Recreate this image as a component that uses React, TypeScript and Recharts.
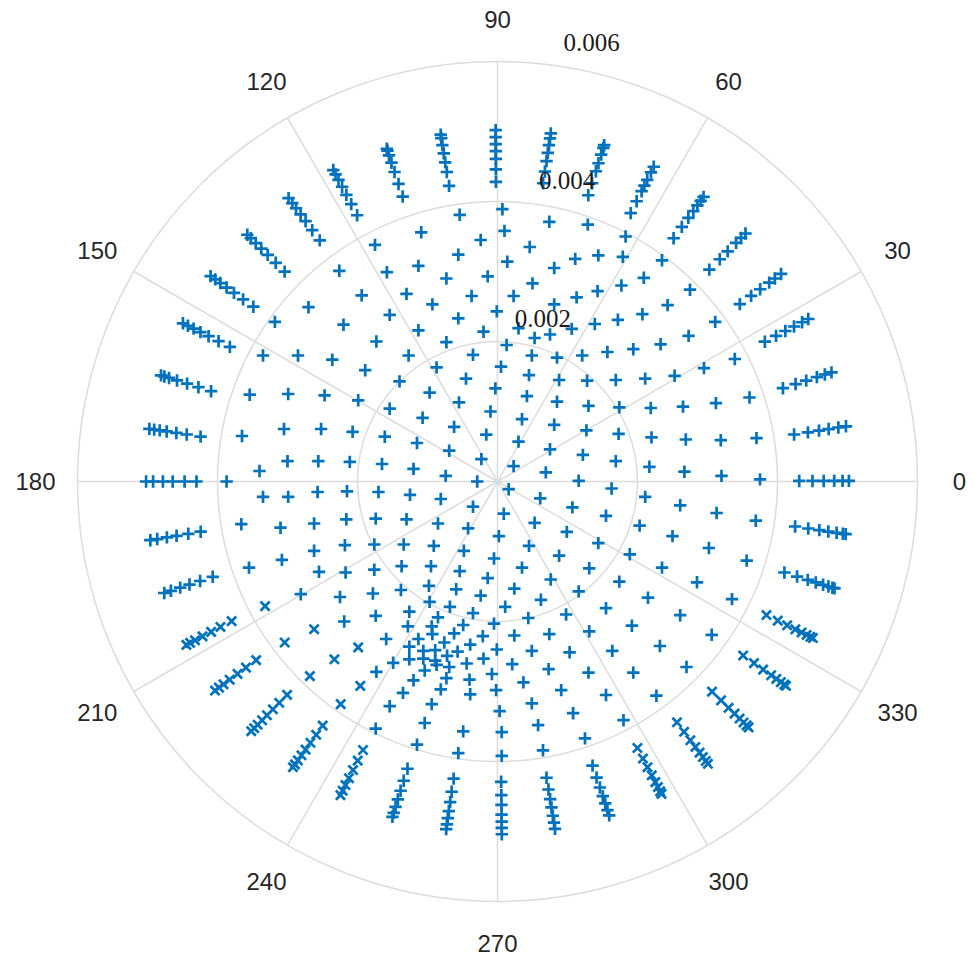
import { ScatterChart, Scatter, XAxis, YAxis, ReferenceDot, ReferenceLine } from "recharts";

// Polar scatter. All radii / coordinates are in units of 1e-3.
const R_MAX = 6;
const PLOT = 840; // square plot area, px
const PX_PER_UNIT = PLOT / (2 * R_MAX);
const LABEL_R = 6.6;
const RTICK_ANGLE = 80;

const BLUE = "#0072BD";
const GRID = "#dcdcdc";

const ringTicks = [2, 4, 6];
const ringLabels = ["0.002", "0.004", "0.006"];
const angleTicks = [0, 30, 60, 90, 120, 150, 180, 210, 240, 270, 300, 330];

// inner field, [re, im]
const innerPlus: [number, number][] = [
  [-1.73, 2.0], [-0.73, 1.99], [0.13, 1.95], [1.94, 1.89], [1.57, 1.85], [1.21, 1.8], [0.85, 1.77], [0.49, 1.8], [-0.35, 1.81], [-1.27, 1.8],
  [-1.89, 1.59], [-0.87, 1.63], [0.05, 1.64], [-1.4, 1.43], [-0.45, 1.47], [0.45, 1.52], [0.88, 1.45], [1.28, 1.44], [1.69, 1.45],
  [-0.97, 1.27], [-0.03, 1.33], [0.42, 1.22], [0.85, 1.14], [1.3, 1.08], [1.74, 1.06],
  [-1.99, 1.16], [-1.54, 1.04], [-0.55, 1.13], [-0.1, 1.0], [0.35, 0.89], [0.81, 0.81], [1.27, 0.73], [1.73, 0.68],
  [-1.07, 0.91], [-0.62, 0.78], [-0.16, 0.67],
  [-1.61, 0.64], [-1.15, 0.55], [-0.69, 0.44], [-0.23, 0.32],
  [0.3, 0.57], [0.75, 0.46], [1.22, 0.38], [1.69, 0.29],
  [0.23, 0.22], [0.69, 0.13], [1.16, 0.01], [1.63, -0.1],
  [-1.65, 0.25], [-1.2, 0.18], [-0.74, 0.08], [-0.29, 0.0],
  [0.16, -0.11], [0.61, -0.24], [1.07, -0.37], [1.55, -0.49],
  [-1.7, -0.15], [-1.25, -0.19], [-0.81, -0.25], [-0.35, -0.36], [0.09, -0.46], [0.53, -0.59], [0.99, -0.72], [1.44, -0.88], [1.89, -1.04],
  [-1.74, -0.53], [-1.3, -0.54], [-0.85, -0.6], [-0.42, -0.67], [0.02, -0.78], [0.45, -0.92], [0.88, -1.06], [1.31, -1.24], [1.74, -1.43],
  [-1.76, -0.9], [-1.34, -0.9], [-0.91, -0.92], [-0.48, -0.99], [-0.05, -1.1], [0.35, -1.23], [0.76, -1.4], [1.16, -1.57], [1.55, -1.81],
  [-1.76, -1.26], [-1.37, -1.21], [-0.95, -1.21], [-0.54, -1.28], [-0.14, -1.38], [0.24, -1.53], [0.62, -1.69], [0.98, -1.9],
  [-1.78, -1.6], [-1.38, -1.55], [-0.98, -1.49], [-0.59, -1.54], [-0.24, -1.63], [0.11, -1.79], [0.44, -1.95],
  // knot below centre
  [-1.74, -1.92], [-1.26, -1.86], [-0.97, -1.72], [-0.68, -1.79], [-0.35, -1.88], [-0.05, -2.03],
  [-1.28, -2.07], [-0.85, -1.94], [-0.94, -2.07], [-0.49, -2.05], [-0.62, -2.17], [-0.21, -2.21],
  [-1.59, -2.25], [-1.13, -2.25], [-0.93, -2.18], [-0.76, -2.3], [-0.39, -2.33], [-0.01, -2.4],
  [-1.26, -2.36], [-1.06, -2.42], [-0.89, -2.41], [-0.57, -2.43],
  [-1.26, -2.54], [-1.06, -2.53], [-0.89, -2.56], [-0.72, -2.49], [-0.44, -2.6], [-0.2, -2.53],
  [-1.49, -2.59], [-1.73, -2.72], [-1.04, -2.7], [-0.87, -2.62], [-0.69, -2.65], [-0.4, -2.83], [-0.08, -2.75],
  [-1.2, -2.84], [-0.73, -2.81],
  [-1.35, -3.02], [-0.81, -2.97], [-0.39, -3.04], [-0.02, -2.98],
  [-1.54, -3.21], [-0.94, -3.18],
  // lower band
  [0.74, -2.18], [1.31, -2.14], [1.92, -2.06], [0.24, -2.2], [0.49, -2.42], [1.03, -2.44], [1.64, -2.42],
  [0.21, -2.61], [0.73, -2.68], [1.3, -2.73], [1.94, -2.73], [0.37, -2.87], [0.91, -2.98], [1.55, -3.05],
  [0.49, -3.17], [1.08, -3.31], [1.8, -3.41], [-1.74, -3.53], [-1.04, -3.45], [-0.49, -3.57], [0.03, -3.28],
  [0.58, -3.48], [1.25, -3.67], [-1.15, -3.76], [-0.56, -3.88], [0.06, -3.58], [0.06, -3.92], [0.65, -3.84],
  // upper band
  [0.07, 3.89], [-0.54, 3.81], [-1.09, 3.56], [0.1, 3.58], [-0.24, 3.45], [-1.75, 3.38], [0.74, 3.71], [1.29, 3.67],
  [0.46, 3.35], [1.83, 3.5], [-0.56, 3.24], [0.14, 3.14], [0.81, 3.05], [1.11, 3.18], [1.44, 3.23], [1.79, 3.21],
  [-1.13, 3.08], [-1.58, 2.99], [-0.73, 2.9], [-0.14, 2.93], [0.5, 2.83], [1.13, 2.63], [1.43, 2.72], [1.77, 2.8],
  [-1.94, 2.66], [-1.3, 2.68], [-0.37, 2.65], [0.23, 2.65], [0.81, 2.53], [-0.93, 2.53], [-1.54, 2.38], [-0.01, 2.43],
  [-0.56, 2.33], [1.39, 2.25], [1.72, 2.31], [-1.13, 2.16], [-0.2, 2.14], [0.3, 2.19], [0.53, 2.05], [0.75, 2.1], [1.06, 2.18],
  // left band
  [-3.35, 1.8], [-2.85, 1.8], [-2.36, 1.74], [-3.54, 1.24], [-2.99, 1.25], [-2.47, 1.23], [-3.65, 0.65], [-3.05, 0.75],
  [-2.52, 0.75], [-2.07, 0.71], [-3.4, 0.15], [-3.0, 0.29], [-2.56, 0.29], [-2.11, 0.28], [-3.87, 0.0], [-3.35, -0.22],
  [-2.99, -0.22], [-2.57, -0.15], [-2.15, -0.14], [-3.66, -0.61], [-3.1, -0.66], [-2.62, -0.6], [-2.16, -0.54],
  [-2.26, 3.01], [-2.7, 2.49], [-3.18, 2.28], [-2.2, 2.24],
  [-3.55, -1.23], [-3.08, -1.12], [-2.62, -0.99], [-2.18, -0.91], [-2.55, -1.29], [-2.17, -1.3], [-2.81, -1.61],
  [-2.25, -1.65], [-2.19, -2.0],
  // right band
  [2.35, 3.16], [2.09, 2.91], [2.75, 2.74], [2.43, 2.52], [2.07, 2.39], [3.11, 2.28], [2.73, 2.08],
  [2.33, 1.96], [2.11, 1.47], [2.53, 1.51], [2.95, 1.62], [3.39, 1.75], [2.19, 1.05], [2.65, 1.07], [3.12, 1.12],
  [3.6, 1.2], [2.2, 0.63], [2.69, 0.6], [3.19, 0.59], [3.7, 0.62], [2.17, 0.21], [2.67, 0.14], [3.2, 0.08],
  [3.75, 0.03], [2.11, -0.22], [2.61, -0.34], [3.13, -0.45], [3.69, -0.56], [2.03, -0.63], [2.5, -0.78],
  [3.02, -0.95], [3.56, -1.13], [2.35, -1.23], [2.85, -1.44], [3.35, -1.68], [2.15, -1.66], [2.61, -1.91],
  [3.06, -2.19], [2.32, -2.35], [2.7, -2.65], [2.27, -3.06],
];

const innerCross: [number, number][] = [
  [-3.32, -1.78], [-3.04, -2.3], [-2.62, -2.11], [-2.33, -2.54], [-2.68, -2.78], [-2.24, -3.18], [-1.99, -2.37], [-1.96, -2.92],
];

// outer rim streaks, [angle in degrees, radii]
const rimPlus: [number, number[]][] = [
  [0.1, [4.31, 4.5, 4.66, 4.81, 4.93, 5.02]],
  [9.0, [4.29, 4.49, 4.65, 4.79, 4.93, 5.04]],
  [18.1, [4.29, 4.48, 4.64, 4.8, 4.92, 5.02]],
  [27.6, [4.31, 4.49, 4.64, 4.78, 4.91, 5.01]],
  [36.2, [4.29, 4.49, 4.65, 4.81, 4.91, 5.02]],
  [45.0, [4.28, 4.49, 4.65, 4.82, 4.92, 5.01]],
  [54.1, [4.29, 4.49, 4.65, 4.77, 4.87, 4.95, 5.02]],
  [63.6, [4.28, 4.47, 4.63, 4.72, 4.81, 4.93, 5.02]],
  [72.4, [4.29, 4.47, 4.65, 4.77, 4.9, 5.0, 5.04]],
  [81.3, [4.31, 4.48, 4.63, 4.75, 4.86, 4.96, 5.03]],
  [90.3, [4.28, 4.46, 4.61, 4.72, 4.82, 4.92, 5.02]],
  [99.3, [4.28, 4.48, 4.62, 4.75, 4.87, 4.97, 5.02]],
  [108.4, [4.29, 4.48, 4.66, 4.8, 4.91, 4.98, 5.01]],
  [117.8, [4.3, 4.48, 4.63, 4.76, 4.87, 4.96, 5.03]],
  [126.4, [4.28, 4.46, 4.62, 4.74, 4.85, 4.94, 5.03]],
  [135.4, [4.27, 4.45, 4.61, 4.74, 4.85, 4.95, 5.02]],
  [144.4, [4.29, 4.47, 4.63, 4.76, 4.87, 4.96, 5.04]],
  [153.3, [4.28, 4.46, 4.62, 4.75, 4.86, 4.95, 5.03]],
  [162.5, [4.29, 4.48, 4.65, 4.8, 4.92, 4.99, 5.04]],
  [171.4, [4.29, 4.49, 4.64, 4.78, 4.88, 4.96, 5.03]],
  [180.0, [4.3, 4.47, 4.64, 4.78, 4.92, 5.02]],
  [189.6, [4.3, 4.48, 4.65, 4.79, 4.93, 5.03]],
  [198.5, [4.29, 4.48, 4.64, 4.78, 4.92, 5.02]],
  [252.6, [4.3, 4.48, 4.63, 4.76, 4.87, 4.96, 5.02]],
  [261.6, [4.29, 4.48, 4.63, 4.76, 4.86, 4.95, 5.02]],
  [270.7, [4.29, 4.48, 4.62, 4.76, 4.86, 4.95, 5.04]],
  [279.4, [4.29, 4.46, 4.6, 4.72, 4.84, 4.94, 5.03]],
  [288.5, [4.28, 4.46, 4.61, 4.74, 4.85, 4.95, 5.03]],
  [342.4, [4.3, 4.49, 4.65, 4.77, 4.88, 4.96, 5.02, 5.05]],
  [351.4, [4.3, 4.49, 4.65, 4.78, 4.9, 4.99, 5.03]],
];

const rimCross: [number, number[]][] = [
  [207.7, [4.29, 4.47, 4.62, 4.76, 4.88, 4.96, 5.02]],
  [216.5, [4.29, 4.47, 4.62, 4.76, 4.87, 4.95, 5.02]],
  [225.4, [4.28, 4.44, 4.57, 4.69, 4.79, 4.88, 4.95, 5.01]],
  [234.4, [4.29, 4.45, 4.59, 4.71, 4.81, 4.9, 4.97, 5.02]],
  [243.4, [4.29, 4.46, 4.61, 4.74, 4.85, 4.94, 5.01]],
  [297.7, [4.3, 4.47, 4.61, 4.74, 4.85, 4.93, 5.0, 5.04]],
  [306.7, [4.29, 4.46, 4.61, 4.73, 4.83, 4.91, 4.98, 5.03]],
  [315.6, [4.29, 4.47, 4.62, 4.74, 4.84, 4.92, 4.98, 5.02]],
  [324.7, [4.3, 4.49, 4.65, 4.79, 4.88, 4.96, 5.02, 5.05]],
  [333.6, [4.29, 4.47, 4.62, 4.75, 4.85, 4.93, 4.99, 5.03]],
];

const rad = (deg: number) => (deg * Math.PI) / 180;
const fromPolar = (deg: number, r: number) => ({ x: r * Math.cos(rad(deg)), y: r * Math.sin(rad(deg)) });

const toPoints = (pts: [number, number][], rim: [number, number[]][]) => [
  ...pts.map(([x, y]) => ({ x, y })),
  ...rim.flatMap(([a, rs]) => rs.map((r) => fromPolar(a, r))),
];

const plusData = toPoints(innerPlus, rimPlus);
const crossData = toPoints(innerCross, rimCross);

const PlusMark = (props: any) => {
  const { cx, cy } = props;
  if (cx == null || cy == null) return null;
  const s = 6.2;
  return (
    <path
      d={`M${cx - s},${cy}H${cx + s}M${cx},${cy - s}V${cy + s}`}
      stroke={BLUE}
      strokeWidth={2.7}
      fill="none"
    />
  );
};

const CrossMark = (props: any) => {
  const { cx, cy } = props;
  if (cx == null || cy == null) return null;
  const s = 4.6;
  return (
    <path
      d={`M${cx - s},${cy - s}L${cx + s},${cy + s}M${cx - s},${cy + s}L${cx + s},${cy - s}`}
      stroke={BLUE}
      strokeWidth={2.7}
      fill="none"
    />
  );
};

export default function App() {
  return (
    <div style={{ position: "absolute", left: 0, top: 0 }}>
      <ScatterChart
        width={970}
        height={960}
        margin={{ top: 61.5, right: 52.5, bottom: 58.5, left: 77.5 }}
      >
        <XAxis type="number" dataKey="x" domain={[-R_MAX, R_MAX]} hide allowDataOverflow />
        <YAxis type="number" dataKey="y" domain={[-R_MAX, R_MAX]} hide allowDataOverflow />

        {angleTicks.map((a) => (
          <ReferenceLine
            key={`spoke-${a}`}
            segment={[{ x: 0, y: 0 }, fromPolar(a, R_MAX)]}
            stroke={GRID}
            strokeWidth={1.5}
            ifOverflow="visible"
          />
        ))}
        {ringTicks.map((t) => (
          <ReferenceDot
            key={`ring-${t}`}
            x={0}
            y={0}
            r={t * PX_PER_UNIT}
            fill="none"
            stroke={GRID}
            strokeWidth={1.5}
          />
        ))}

        <Scatter data={plusData} shape={PlusMark} isAnimationActive={false} />
        <Scatter data={crossData} shape={CrossMark} isAnimationActive={false} />

        {ringTicks.map((t, i) => {
          const p = fromPolar(RTICK_ANGLE, t);
          return (
            <ReferenceDot
              key={`rlabel-${t}`}
              x={p.x}
              y={p.y}
              ifOverflow="visible"
              shape={(s: any) => (
                <text
                  x={s.cx - 7}
                  y={s.cy - 17}
                  textAnchor="start"
                  fontSize={25}
                  fontFamily="'Liberation Serif', 'Times New Roman', serif"
                  fill="#1a1a1a"
                >
                  {ringLabels[i]}
                </text>
              )}
            />
          );
        })}
        {angleTicks.map((a) => {
          const p = fromPolar(a, LABEL_R);
          return (
            <ReferenceDot
              key={`alabel-${a}`}
              x={p.x}
              y={p.y}
              ifOverflow="visible"
              shape={(s: any) => (
                <text
                  x={s.cx}
                  y={s.cy}
                  textAnchor="middle"
                  dominantBaseline="central"
                  fontSize={24}
                  fontFamily="'Liberation Sans', Arial, sans-serif"
                  fill="#262626"
                >
                  {a}
                </text>
              )}
            />
          );
        })}
      </ScatterChart>
    </div>
  );
}
